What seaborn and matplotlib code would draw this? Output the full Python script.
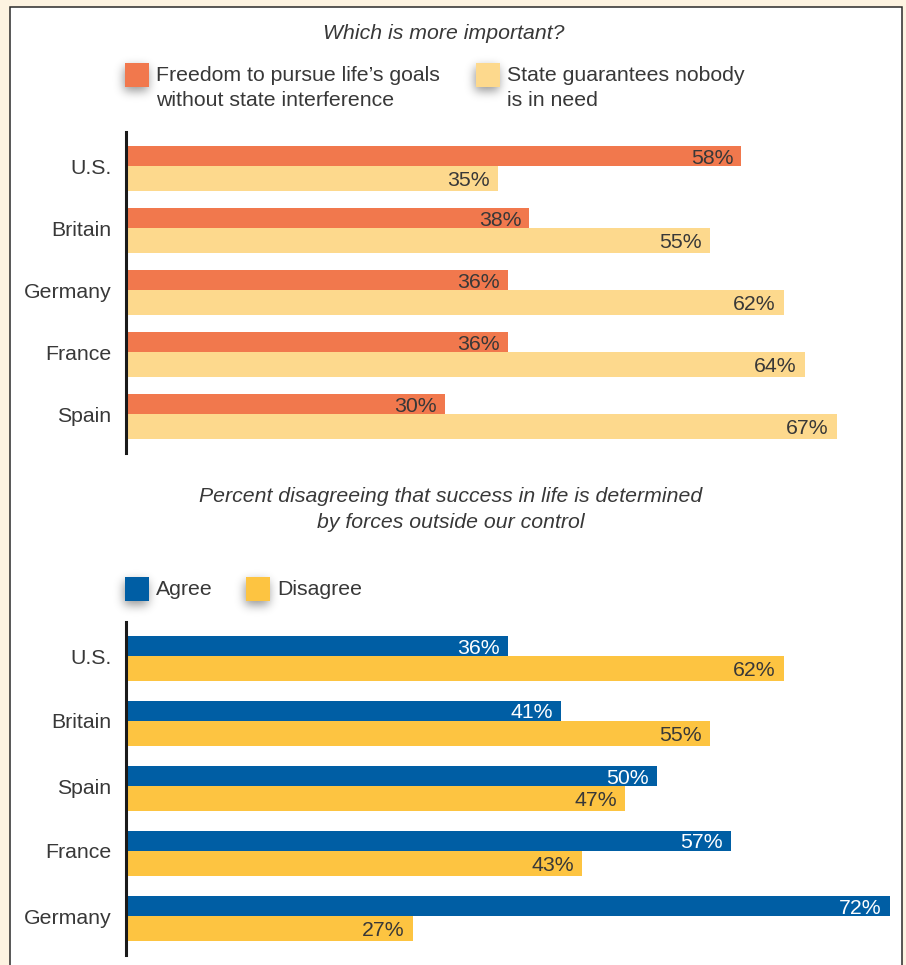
import numpy as np
import matplotlib
matplotlib.use("Agg")
import matplotlib.pyplot as plt
import matplotlib.transforms as mtransforms
from matplotlib.patches import Rectangle
import seaborn as sns

# ---- data ----
top_countries = ["U.S.", "Britain", "Germany", "France", "Spain"]
freedom = [58, 38, 36, 36, 30]
state_guarantee = [35, 55, 62, 64, 67]

bottom_countries = ["U.S.", "Britain", "Spain", "France", "Germany"]
agree = [36, 41, 50, 57, 72]
disagree = [62, 55, 47, 43, 27]

top_title = "Which is more important?"
top_legend = ["Freedom to pursue life\u2019s goals\nwithout state interference",
              "State guarantees nobody\nis in need"]
bottom_title = "Percent disagreeing that success in life is determined\nby forces outside our control"
bottom_legend = ["Agree", "Disagree"]

# ---- style ----
ORANGE = "#F1784D"
LIGHT_YELLOW = "#FDD98D"
BLUE = "#005EA4"
YELLOW = "#FDC441"
CREAM = "#FDF3E1"
TEXT = "#383838"

plt.rcParams["font.family"] = ["Liberation Sans", "DejaVu Sans"]
FS = 15.3

W, H = 906, 965
fig = plt.figure(figsize=(W / 100, H / 100), dpi=100, facecolor=CREAM)


def fx(x):
    return x / W


def fy(y):
    return 1 - y / H


# white panel with a thin dark frame, kept behind everything
panel = Rectangle((fx(9.5), fy(1000)), (902 - 9.5) / W, (1000 - 7.5) / H,
                  transform=fig.transFigure, facecolor="white",
                  edgecolor="#2a2a2a", linewidth=1.1, zorder=-10)
fig.patches.append(panel)


def _blurred_box(size, margin, sigma):
    n = size + 2 * margin
    box = np.zeros((n, n))
    box[margin:margin + size, margin:margin + size] = 1.0
    r = int(3 * sigma)
    k = np.exp(-0.5 * (np.arange(-r, r + 1) / sigma) ** 2)
    k /= k.sum()
    box = np.apply_along_axis(lambda v: np.convolve(v, k, mode="same"), 0, box)
    box = np.apply_along_axis(lambda v: np.convolve(v, k, mode="same"), 1, box)
    return box


def legend_square(x, y, color, size=24):
    # soft blurred shadow behind the swatch
    margin = 18
    alpha = _blurred_box(size, margin, 5.0) * 0.42
    img = np.zeros(alpha.shape + (4,))
    img[..., 3] = alpha
    n = alpha.shape[0]
    sx, sy = x - margin - 1, y - margin + 4
    fig.figimage(img, xo=int(sx), yo=int(H - (sy + n)), origin="upper", zorder=-5)
    fig.patches.append(Rectangle((fx(x), fy(y + size)), size / W, size / H,
                                 transform=fig.transFigure, facecolor=color,
                                 edgecolor="none", zorder=-4))


def draw_panel(top_px, bottom_px, step_px, first_row_px, countries, first, second,
               c1, c2, label_c1, label_c2):
    ax = fig.add_axes([fx(126.5), fy(bottom_px), fx(900) - fx(126.5), (bottom_px - top_px) / H])
    ax.set_facecolor("none")
    pos = np.arange(len(countries), dtype=float)
    h1 = 20.0 / step_px
    h2 = 25.0 / step_px
    y1 = pos - h1 / 2
    y2 = pos + h2 / 2
    sns.barplot(x=first, y=y1, orient="h", native_scale=True, width=h1, color=c1,
                saturation=1, linewidth=0, errorbar=None, ax=ax)
    sns.barplot(x=second, y=y2, orient="h", native_scale=True, width=h2, color=c2,
                saturation=1, linewidth=0, errorbar=None, ax=ax)

    off = mtransforms.offset_copy(ax.transData, fig=fig, x=-8, y=-7.5, units="dots")
    for v, p in zip(first, y1):
        ax.text(v, p, f"{v}%", transform=off, ha="right", va="baseline",
                fontsize=FS, color=label_c1)
    for v, p in zip(second, y2):
        ax.text(v, p, f"{v}%", transform=off, ha="right", va="baseline",
                fontsize=FS, color=label_c2)

    ax.set_xlim(0, (900 - 126.5) / 10.6)
    lo = -(first_row_px - top_px) / step_px
    hi = lo + (bottom_px - top_px) / step_px
    ax.set_ylim(hi, lo)
    ax.set_yticks(pos, countries)
    ax.set_xticks([])
    ax.set_xlabel("")
    ax.set_ylabel("")
    ax.tick_params(axis="y", length=0, pad=11, labelsize=FS, labelcolor=TEXT)
    for s in ("top", "right", "bottom"):
        ax.spines[s].set_visible(False)
    ax.spines["left"].set_color("#1a1a1a")
    ax.spines["left"].set_linewidth(2.2)
    ax.spines["left"].set_zorder(5)
    return ax


# ---- top panel ----
fig.text(fx(444), fy(39), top_title, ha="center", va="baseline", fontsize=FS,
         style="italic", color=TEXT)
legend_square(125, 63, ORANGE)
legend_square(476, 63, LIGHT_YELLOW)
fig.text(fx(156), fy(66), top_legend[0], ha="left", va="top", fontsize=FS,
         color=TEXT, linespacing=1.4)
fig.text(fx(507), fy(66), top_legend[1], ha="left", va="top", fontsize=FS,
         color=TEXT, linespacing=1.4)

draw_panel(132, 453, 62, 166, top_countries, freedom, state_guarantee,
           ORANGE, LIGHT_YELLOW, TEXT, TEXT)

# ---- bottom panel ----
fig.text(fx(451), fy(487), bottom_title, ha="center", va="top", fontsize=FS,
         style="italic", color=TEXT, linespacing=1.45)
legend_square(125, 577, BLUE)
legend_square(246, 577, YELLOW)
fig.text(fx(156), fy(595), bottom_legend[0], ha="left", va="baseline", fontsize=FS, color=TEXT)
fig.text(fx(277), fy(595), bottom_legend[1], ha="left", va="baseline", fontsize=FS, color=TEXT)

draw_panel(622, 955, 65, 656, bottom_countries, agree, disagree,
           BLUE, YELLOW, "white", TEXT)

fig.savefig("out.png", dpi=100, facecolor=CREAM)
